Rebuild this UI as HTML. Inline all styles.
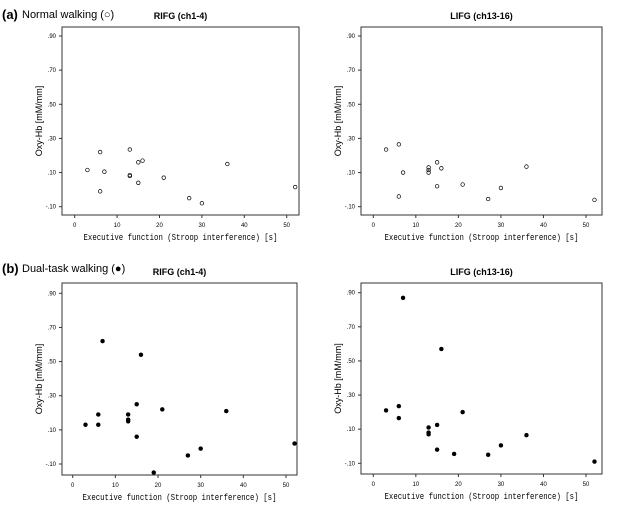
<!DOCTYPE html><html><head><style>body{margin:0;background:#fff}svg{display:block}text{font-family:"Liberation Sans",sans-serif}text.m{font-family:"Liberation Mono",monospace}</style></head><body>
<svg id="s" width="632" height="505" xmlns="http://www.w3.org/2000/svg">
<text x="2" y="19" font-size="13" font-weight="bold">(a)</text><text x="22" y="18" font-size="11">Normal walking (○)</text>
<text x="2" y="273" font-size="13" font-weight="bold">(b)</text><text x="22" y="272" font-size="11">Dual-task walking (●)</text>
</svg>
<script>
const s=document.getElementById('s');const NS='http://www.w3.org/2000/svg';
function el(t,a,txt){const e=document.createElementNS(NS,t);for(const k in a)e.setAttribute(k,a[k]);if(txt)e.textContent=txt;s.appendChild(e);return e;}
const panels=[
{L:62,R:299,T:27,B:215,x0:74.7,x50:286.7,y9:36,ym:206.7,title:"RIFG (ch1-4)",f:0,d:[[3,.115],[6,.22],[6,-.01],[7,.105],[13,.235],[13,.08],[13,.085],[15,.16],[15,.04],[16,.17],[21,.07],[27,-.05],[30,-.08],[36,.15],[52,.015]]},
{L:361,R:602,T:27,B:215,x0:373.3,x50:586,y9:36,ym:206.7,title:"LIFG (ch13-16)",f:0,d:[[3,.235],[6,.265],[6,-.04],[7,.1],[13,.13],[13,.115],[13,.1],[15,.16],[15,.02],[16,.125],[21,.03],[27,-.055],[30,.01],[36,.135],[52,-.06]]},
{L:62,R:297,T:283,B:475,x0:72.7,x50:286,y9:293.3,ym:464,title:"RIFG (ch1-4)",f:1,d:[[3,.13],[6,.19],[6,.13],[7,.62],[13,.19],[13,.16],[13,.15],[15,.25],[15,.06],[16,.54],[19,-.15],[21,.22],[27,-.05],[30,-.01],[36,.21],[52,.02]]},
{L:361,R:602,T:283,B:474,x0:373.3,x50:586,y9:292.7,ym:463.3,title:"LIFG (ch13-16)",f:1,d:[[3,.21],[6,.235],[6,.165],[7,.87],[13,.11],[13,.08],[13,.07],[15,.125],[15,-.02],[16,.57],[19,-.045],[21,.2],[27,-.05],[30,.005],[36,.065],[52,-.09]]}];
for(const p of panels){
 const X=v=>p.x0+(p.x50-p.x0)*v/50, Y=v=>p.ym+(p.y9-p.ym)*(v+.1);
 el('rect',{x:p.L,y:p.T,width:p.R-p.L,height:p.B-p.T,fill:'none',stroke:'#333','stroke-width':1});
 el('text',{x:(p.L+p.R)/2,y:p.T-8,'font-size':9,'font-weight':'bold','text-anchor':'middle'},p.title);
 for(let i=0;i<=5;i++){const x=X(i*10);el('line',{x1:x,x2:x,y1:p.B,y2:p.B+3,stroke:'#333'});el('text',{x:x,y:p.B+12,'font-size':6,'text-anchor':'middle'},String(i*10));}
 [.9,.7,.5,.3,.1,-.1].forEach(v=>{const y=Y(v);el('line',{x1:p.L-3,x2:p.L,y1:y,y2:y,stroke:'#333'});el('text',{x:p.L-6,y:y+2,'font-size':6,'text-anchor':'end'},(v<0?'-':'')+'.'+String(Math.round(Math.abs(v)*100)).padStart(2,'0'));});
 const mx=(p.L+p.R)/2;
 el('text',{x:mx-97,y:p.B+25,'font-size':9,class:'m',textLength:194,lengthAdjust:'spacingAndGlyphs'},'Executive function (Stroop interference) [s]');
 const cy=(p.T+p.B)/2,cx=p.L-20;
 el('text',{x:cx,y:cy,'font-size':9,'text-anchor':'middle',transform:`rotate(-90 ${cx} ${cy})`},'Oxy-Hb [mM/mm]');
 for(const [a,b] of p.d){el('circle',{cx:X(a),cy:Y(b),r:p.f?2:1.8,fill:p.f?'#000':'none',stroke:'#000','stroke-width':p.f?0.5:0.7});}
}
</script></body></html>
